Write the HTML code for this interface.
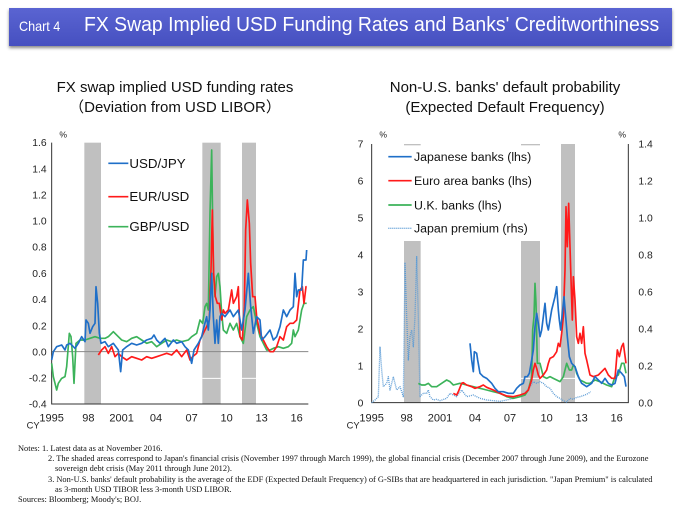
<!DOCTYPE html>
<html><head><meta charset="utf-8"><style>
body{margin:0;width:679px;height:511px;background:#fff;position:relative;overflow:hidden;font-family:"Liberation Sans",sans-serif}
#hdr{position:absolute;left:9px;top:8px;width:663px;height:38px;background:linear-gradient(#5a64d2,#4650c0);box-shadow:0 2px 3px #888;color:#fff;white-space:nowrap}
#hdr span.a{position:absolute;left:10px;top:10px;font-size:14px;transform:scaleX(0.9);transform-origin:left}
#hdr span.b{position:absolute;left:75px;top:6px;font-size:20px;transform:scaleX(0.97);transform-origin:left}
.t{position:absolute;font-size:15px;color:#111;text-align:center;line-height:20px}
svg{position:absolute}
#notes{position:absolute;left:18px;top:444px;font-family:"Liberation Serif",serif;font-size:8.4px;line-height:10.2px;color:#111;white-space:nowrap}
</style></head><body>
<div id="hdr"><span class="a">Chart 4</span><span class="b">FX Swap Implied USD Funding Rates and Banks' Creditworthiness</span></div>
<div class="t" style="left:20px;top:78px;width:310px">FX swap implied USD funding rates<br>（Deviation from USD LIBOR）</div>
<div class="t" style="left:345px;top:78px;width:320px">Non-U.S. banks' default probability<br>(Expected Default Frequency)</div>

<svg style="left:0;top:130px" width="340" height="300" viewBox="0 0 1020 900">
<g fill="#c0c0c0"><rect x="253" y="38" width="50" height="784"/><rect x="607" y="38" width="55" height="784"/><rect x="726" y="38" width="42" height="784"/></g>
<g stroke="#fff" stroke-width="3"><line x1="607" y1="745" x2="662" y2="745"/><line x1="726" y1="745" x2="768" y2="745"/></g>
<line x1="155" y1="665" x2="925" y2="665" stroke="#888" stroke-width="3"/>
<g stroke="#333" stroke-width="3" fill="none"><polyline points="155,38 155,822 925,822"/></g>
<g font-size="31" fill="#222" text-anchor="end">
<text x="140" y="48">1.6</text><text x="140" y="127">1.4</text><text x="140" y="205">1.2</text><text x="140" y="284">1.0</text><text x="140" y="362">0.8</text><text x="140" y="441">0.6</text><text x="140" y="519">0.4</text><text x="140" y="598">0.2</text><text x="140" y="676">0.0</text><text x="140" y="755">-0.2</text><text x="140" y="833">-0.4</text></g>
<g font-size="33" fill="#222" text-anchor="middle"><text x="155" y="875">1995</text><text x="265" y="875">98</text><text x="365" y="875">2001</text><text x="468" y="875">04</text><text x="575" y="875">07</text><text x="680" y="875">10</text><text x="785" y="875">13</text><text x="890" y="875">16</text></g>
<text x="80" y="895" font-size="28" fill="#222">CY</text><text x="178" y="22" font-size="26" fill="#222">%</text>
<g fill="none" stroke-width="5" stroke-linejoin="round">
<polyline style="stroke:#3cb35a" points="155,700 160,740 165,760 170,780 175,760 185,745 195,740 200,710 208,610 213,620 218,680 222,760 228,640 240,630 255,630 270,625 285,620 300,625 315,625 325,620 340,605 355,620 365,630 380,635 395,625 410,620 425,630 440,640 455,635 470,650 485,640 500,630 515,635 530,630 545,635 565,630 575,620 590,610 600,570 608,580 615,530 620,520 625,540 630,250 635,60 640,420 645,500 650,440 655,430 660,470 665,550 670,600 680,610 690,580 700,600 710,580 720,620 730,640 740,560 750,540 760,530 770,580 780,620 790,640 800,660 810,660 820,655 835,650 850,655 865,650 875,640 880,600 885,620 895,600 905,540 912,520 920,520"/>
<polyline stroke="#ff1a1a" points="295,675 305,660 315,650 325,670 335,650 345,680 355,670 365,680 380,690 395,680 410,685 425,690 440,680 455,685 470,680 485,675 500,670 515,675 530,660 545,680 560,660 570,690 578,680 590,670 600,630 610,610 620,590 628,570 633,420 637,240 641,430 646,500 652,520 658,520 665,570 670,540 675,550 685,540 695,480 700,520 710,500 715,470 720,620 727,630 733,530 737,300 742,210 748,280 752,400 758,500 765,500 770,560 780,610 790,630 800,650 810,665 820,665 830,650 840,620 850,630 860,590 870,580 880,580 890,570 900,480 907,470 912,520 918,470 920,470"/>
<polyline stroke="#1f6fc8" points="155,690 160,665 170,650 185,645 195,660 200,645 210,640 225,655 235,640 245,620 255,635 258,570 265,580 270,610 278,590 285,580 288,470 293,520 298,610 303,640 315,635 325,650 340,640 355,660 362,725 368,660 380,650 395,640 410,645 425,640 440,630 455,625 462,615 470,630 480,640 495,625 505,650 520,630 530,640 545,635 555,650 565,660 575,700 582,660 595,640 605,620 612,590 620,560 625,600 630,540 635,430 640,560 645,640 650,570 655,640 660,560 665,550 675,560 690,540 700,560 715,540 725,600 735,540 745,430 752,530 760,610 770,560 780,570 785,630 795,620 810,600 820,630 830,620 840,590 850,540 860,560 870,540 880,530 885,430 890,500 895,480 905,480 910,390 918,390 920,360"/>
<line x1="325" y1="100" x2="385" y2="100" stroke="#1f6fc8"/><line x1="325" y1="200" x2="385" y2="200" stroke="#ff1a1a"/><line x1="325" y1="290" x2="385" y2="290" style="stroke:#3cb35a"/></g>
<g font-size="40" fill="#111"><text x="388" y="114">USD/JPY</text><text x="388" y="213">EUR/USD</text><text x="388" y="303">GBP/USD</text></g>
</svg>

<svg style="left:340px;top:130px" width="339" height="300" viewBox="0 0 1017 900">
<g fill="#c0c0c0"><rect x="192" y="333" width="50" height="485"/><rect x="192" y="42" width="50" height="4"/><rect x="543" y="333" width="57" height="485"/><rect x="543" y="42" width="57" height="4"/><rect x="663" y="42" width="42" height="776"/></g>
<line x1="543" y1="745" x2="705" y2="745" stroke="#fff" stroke-width="3"/>
<polyline points="95,42 95,818 865,818 865,42" fill="none" stroke="#333" stroke-width="3"/>
<g font-size="31" fill="#222" text-anchor="end"><text x="70" y="52">7</text><text x="70" y="163">6</text><text x="70" y="274">5</text><text x="70" y="385">4</text><text x="70" y="496">3</text><text x="70" y="607">2</text><text x="70" y="718">1</text><text x="70" y="829">0</text></g>
<g font-size="31" fill="#222"><text x="895" y="52">1.4</text><text x="895" y="163">1.2</text><text x="895" y="274">1.0</text><text x="895" y="385">0.8</text><text x="895" y="496">0.6</text><text x="895" y="607">0.4</text><text x="895" y="718">0.2</text><text x="895" y="829">0.0</text></g>
<g font-size="33" fill="#222" text-anchor="middle"><text x="95" y="875">1995</text><text x="200" y="875">98</text><text x="300" y="875">2001</text><text x="405" y="875">04</text><text x="510" y="875">07</text><text x="620" y="875">10</text><text x="725" y="875">13</text><text x="830" y="875">16</text></g>
<text x="20" y="895" font-size="28" fill="#222">CY</text><text x="118" y="22" font-size="26" fill="#222">%</text><text x="835" y="22" font-size="26" fill="#222">%</text>
<g fill="none" stroke-width="5" stroke-linejoin="round">
<polyline stroke="#5b9bd5" stroke-width="4" stroke-dasharray="3,3" points="95,818 105,810 115,800 120,650 125,720 130,770 140,760 145,740 150,780 160,740 165,760 170,780 180,770 190,800 195,400 200,560 205,690 210,620 215,600 220,650 225,560 230,380 235,560 240,800 250,790 260,790 265,780 270,800 280,810 290,808 300,812 320,805 330,790 340,795 350,800 365,780 380,800 400,795 420,805 440,810 460,812 480,814 500,810 520,805 540,800 555,790 570,770 580,755 590,760 600,755 610,760 620,770 630,775 640,790 650,800 660,805 670,812 680,816 690,805 700,808 710,802 720,800 735,795 745,790 752,785"/>
<polyline style="stroke:#3cb35a" points="235,760 245,765 255,765 265,760 275,770 290,770 305,760 320,750 330,755 340,765 360,760 380,765 400,770 420,775 440,780 460,785 480,790 500,800 520,805 540,800 555,795 565,780 575,740 578,600 582,560 585,460 588,520 592,700 600,700 610,740 620,745 630,740 640,745 650,750 660,755 670,740 680,700 688,720 695,720 700,705 705,710 710,730 720,750 730,755 740,760 750,760 765,750 780,755 790,760 800,765 815,770 825,740 835,735 845,700 852,700 858,730"/>
<polyline stroke="#ff1a1a" points="340,790 350,795 355,785 365,760 370,758 380,765 395,770 405,775 420,770 430,765 440,772 460,780 480,790 500,798 520,800 540,795 555,790 565,780 575,750 580,720 585,700 590,715 595,735 600,745 610,735 620,720 625,700 630,685 640,680 650,665 655,640 660,650 665,610 670,560 675,420 678,230 682,350 686,220 690,350 694,480 697,570 700,440 705,510 710,620 715,640 720,610 725,640 730,590 735,670 740,690 750,735 760,740 775,735 785,725 795,715 805,735 815,745 825,745 832,660 838,680 845,650 850,640 858,700"/>
<polyline stroke="#1f6fc8" points="390,640 395,690 400,725 403,665 410,670 413,690 420,730 430,740 440,745 455,760 465,775 475,785 490,785 505,790 520,790 530,775 540,765 550,760 555,740 562,740 568,730 575,690 580,660 585,590 590,550 595,580 600,620 605,600 610,560 615,520 620,580 625,600 630,570 635,540 640,520 645,500 650,470 655,540 658,570 662,600 667,550 672,500 677,560 682,620 688,680 695,700 705,710 715,740 725,760 740,770 755,760 765,740 775,750 785,760 795,745 805,760 815,765 825,760 835,720 845,730 853,740 858,770"/>
<line x1="145" y1="80" x2="215" y2="80" stroke="#1f6fc8"/><line x1="145" y1="152" x2="215" y2="152" stroke="#ff1a1a"/><line x1="145" y1="225" x2="215" y2="225" style="stroke:#3cb35a"/><line x1="145" y1="295" x2="215" y2="295" stroke="#5b9bd5" stroke-width="4" stroke-dasharray="3,3"/></g>
<g font-size="37" fill="#111"><text x="222" y="93">Japanese banks (lhs)</text><text x="222" y="165">Euro area banks (lhs)</text><text x="222" y="238">U.K. banks (lhs)</text><text x="222" y="308">Japan premium (rhs)</text></g>
</svg>

<div id="notes">Notes: 1. Latest data as at November 2016.<br>
<span style="padding-left:30px">2. The shaded areas correspond to Japan's financial crisis (November 1997 through March 1999), the global financial crisis (December 2007 through June 2009), and the Eurozone</span><br>
<span style="padding-left:37px">sovereign debt crisis (May 2011 through June 2012).</span><br>
<span style="padding-left:30px">3. Non-U.S. banks' default probability is the average of the EDF (Expected Default Frequency) of G-SIBs that are headquartered in each jurisdiction. "Japan Premium" is calculated</span><br>
<span style="padding-left:37px">as 3-month USD TIBOR less 3-month USD LIBOR.</span><br>
Sources: Bloomberg; Moody's; BOJ.</div>
</body></html>
